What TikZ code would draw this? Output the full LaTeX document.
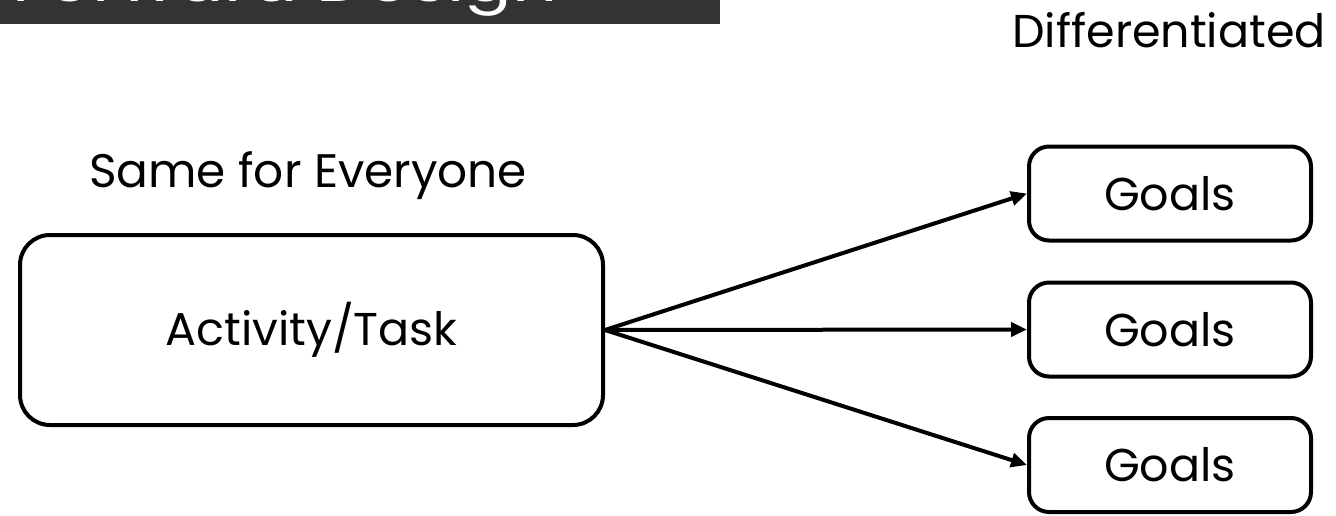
\documentclass[tikz,border=0pt]{standalone}
\usepackage{fontspec}
\setmainfont{Poppins}
\usetikzlibrary{arrows.meta}
\definecolor{band}{HTML}{333333}
\tikzset{
  every picture/.style={x=1pt,y=-1pt},
  lbl/.style={inner sep=0pt, font=\fontsize{46}{52}\selectfont},
  bigbox/.style={draw, line width=4pt, rounded corners=30pt, minimum width=583pt, minimum height=190pt, inner sep=0pt, font=\fontsize{46}{52}\selectfont},
  goalbox/.style={draw, line width=4pt, rounded corners=20pt, minimum width=282pt, minimum height=94pt, inner sep=0pt, font=\fontsize{46}{52}\selectfont},
  conn/.style={line width=4pt, -{Triangle[length=16pt,width=14pt]}},
}
\begin{document}
\begin{tikzpicture}
\useasboundingbox (0,0) rectangle (1336,515);
\fill[band] (0,0) rectangle (720,24);
\begin{scope}
\clip (0,0) rectangle (720,24);
\node[anchor=base west, inner sep=0pt, text=white, font=\fontsize{55}{62}\selectfont] (title) at (12,1) {\scalebox{1.28}[1]{Forward Design}};
\end{scope}
\node[lbl, anchor=base] (diff) at (1169,47) {Differentiated};
\node[lbl, anchor=base, font=\fontsize{47}{52}\selectfont] (same) at (308,187) {Same for Everyone};
\node[bigbox] (task) at (311.5,330) {Activity/Task};
\node[goalbox] (g1) at (1170,193.5) {Goals};
\node[goalbox] (g2) at (1170,329.5) {Goals};
\node[goalbox] (g3) at (1170,465) {Goals};
\draw[conn] (task.east) -- (g1.west);
\draw[conn] (task.east) -- (g2.west);
\draw[conn] (task.east) -- (g3.west);
\end{tikzpicture}
\end{document}
